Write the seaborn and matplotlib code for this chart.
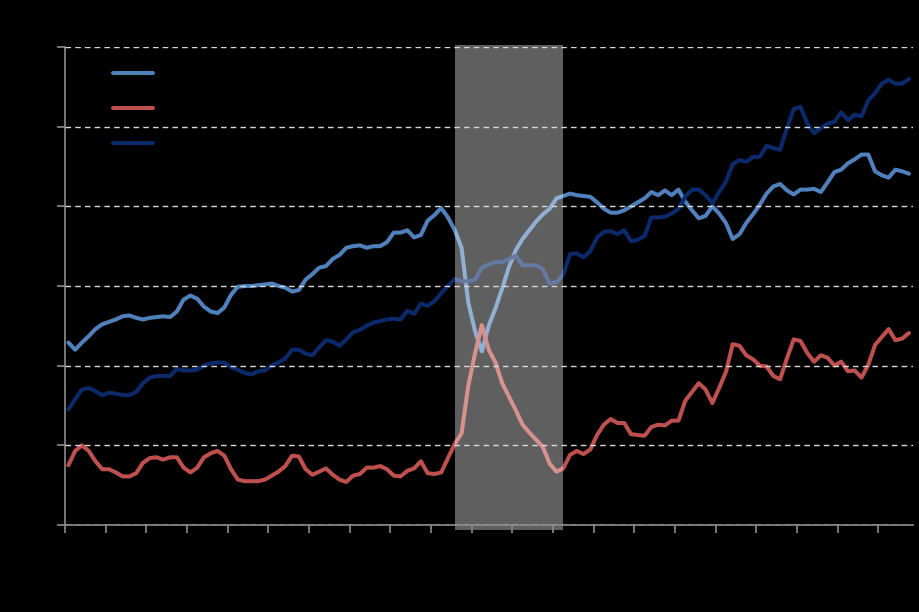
import numpy as np
import pandas as pd
import matplotlib
matplotlib.use("Agg")
import matplotlib.pyplot as plt
import seaborn as sns

light_blue = [2.29, 2.20, 2.29, 2.37, 2.46, 2.52, 2.55, 2.58, 2.62, 2.63,
              2.60, 2.58, 2.60, 2.61, 2.62, 2.61, 2.68, 2.83, 2.88, 2.84,
              2.74, 2.68, 2.66, 2.73, 2.89, 2.99, 3.00, 3.00, 3.01, 3.02,
              3.03, 3.00, 2.98, 2.93, 2.95, 3.08, 3.15, 3.23, 3.25, 3.34,
              3.39, 3.48, 3.50, 3.51, 3.48, 3.50, 3.50, 3.55, 3.67, 3.67,
              3.70, 3.61, 3.64, 3.82, 3.89, 3.98, 3.86, 3.70, 3.48, 2.79,
              2.43, 2.18, 2.50, 2.72, 2.97, 3.24, 3.45, 3.59, 3.70, 3.81,
              3.90, 3.97, 4.10, 4.13, 4.16, 4.14, 4.13, 4.12, 4.05, 3.97,
              3.92, 3.92, 3.95, 4.00, 4.05, 4.10, 4.18, 4.14, 4.20, 4.14,
              4.21, 4.06, 3.95, 3.85, 3.88, 4.00, 3.91, 3.79, 3.59, 3.65,
              3.79, 3.90, 4.02, 4.16, 4.25, 4.28, 4.20, 4.15, 4.21, 4.21,
              4.22, 4.18, 4.30, 4.43, 4.46, 4.54, 4.59, 4.65, 4.65, 4.44,
              4.39, 4.36, 4.46, 4.44, 4.41]

red = [0.75, 0.93, 1.00, 0.93, 0.80, 0.70, 0.70, 0.66, 0.61, 0.61,
       0.65, 0.78, 0.84, 0.85, 0.82, 0.85, 0.85, 0.72, 0.66, 0.72,
       0.85, 0.90, 0.93, 0.87, 0.70, 0.57, 0.55, 0.55, 0.55, 0.57,
       0.62, 0.67, 0.74, 0.87, 0.86, 0.70, 0.63, 0.67, 0.71, 0.63,
       0.57, 0.54, 0.62, 0.64, 0.72, 0.72, 0.74, 0.70, 0.62, 0.61,
       0.68, 0.71, 0.80, 0.65, 0.64, 0.66, 0.84, 1.02, 1.15, 1.75,
       2.16, 2.51, 2.20, 2.04, 1.78, 1.61, 1.44, 1.26, 1.16, 1.07,
       0.98, 0.77, 0.67, 0.71, 0.88, 0.93, 0.89, 0.95, 1.13, 1.26,
       1.33, 1.28, 1.28, 1.14, 1.13, 1.12, 1.23, 1.26, 1.25, 1.31,
       1.31, 1.56, 1.67, 1.78, 1.70, 1.53, 1.72, 1.92, 2.27, 2.25,
       2.13, 2.08, 2.00, 1.99, 1.87, 1.83, 2.09, 2.33, 2.31, 2.16,
       2.05, 2.13, 2.10, 2.00, 2.05, 1.93, 1.94, 1.85, 2.01, 2.26,
       2.36, 2.46, 2.32, 2.34, 2.41]

navy = [1.45, 1.58, 1.70, 1.72, 1.68, 1.63, 1.66, 1.65, 1.63, 1.63,
        1.67, 1.78, 1.85, 1.87, 1.87, 1.87, 1.96, 1.94, 1.94, 1.95,
        2.00, 2.03, 2.04, 2.04, 1.98, 1.95, 1.91, 1.89, 1.93, 1.94,
        2.00, 2.04, 2.09, 2.20, 2.20, 2.15, 2.13, 2.23, 2.32, 2.30,
        2.25, 2.33, 2.42, 2.45, 2.50, 2.54, 2.56, 2.58, 2.59, 2.58,
        2.69, 2.65, 2.78, 2.75, 2.81, 2.91, 3.00, 3.09, 3.06, 3.06,
        3.08, 3.23, 3.27, 3.30, 3.30, 3.34, 3.38, 3.26, 3.26, 3.26,
        3.21, 3.03, 3.05, 3.14, 3.40, 3.41, 3.36, 3.44, 3.61, 3.68,
        3.69, 3.65, 3.70, 3.56, 3.58, 3.63, 3.86, 3.86, 3.87, 3.91,
        3.97, 4.12, 4.21, 4.21, 4.14, 4.04, 4.18, 4.31, 4.53, 4.58,
        4.56, 4.62, 4.62, 4.76, 4.73, 4.71, 4.98, 5.22, 5.25, 5.04,
        4.92, 4.98, 5.04, 5.06, 5.18, 5.08, 5.15, 5.13, 5.33, 5.42,
        5.54, 5.59, 5.54, 5.54, 5.60]

series_names = ["Series A", "Series B", "Series C"]
colors = ["#4f81bd", "#c0504d", "#0a2a6c"]
shade_start, shade_end = 57.0, 73.0

period = np.arange(len(light_blue))
df = pd.concat([
    pd.DataFrame({"period": period, "value": light_blue, "series": series_names[0]}),
    pd.DataFrame({"period": period, "value": red, "series": series_names[1]}),
    pd.DataFrame({"period": period, "value": navy, "series": series_names[2]}),
])

sns.set_style("dark")
fig = plt.figure(figsize=(9.2, 6.12), dpi=100, facecolor="black")
ax = fig.add_axes([65/920, 87/612, 848/920, 478/612])
ax.set_facecolor("black")

sns.lineplot(data=df, x="period", y="value", hue="series",
             palette=dict(zip(series_names, colors)), linewidth=2.9,
             ax=ax, legend=False)

ax.axvspan(shade_start, shade_end, ymin=-0.0105, ymax=1.004,
           color="white", alpha=0.376, lw=0, zorder=2.2, clip_on=False)

ax.set_xlim(-0.5, 124.6)
ax.set_ylim(0, 6)
ax.set_xticks(np.arange(-0.5, 124, 6))
ax.set_yticks(np.arange(0, 7, 1))
ax.set_xticklabels([])
ax.set_yticklabels([])
ax.set_xlabel("")
ax.set_ylabel("")
ax.set_axisbelow(False)
ax.grid(False, axis="x")
ax.grid(True, axis="y", color="#d9d9d9", linestyle=(0, (4, 3)), linewidth=1.0)
for s in ["top", "right"]:
    ax.spines[s].set_visible(False)
for s in ["left", "bottom"]:
    ax.spines[s].set_visible(True)
    ax.spines[s].set_color("#8c8c8c")
    ax.spines[s].set_linewidth(1.2)
ax.tick_params(axis="both", which="both", colors="#8c8c8c", length=5.5,
               width=1.2, direction="out", bottom=True, left=True)

handles = [plt.Line2D([], [], color=c, lw=2.9, solid_capstyle="round") for c in colors]
leg = ax.legend(handles, ["", "", ""], loc="upper left",
                bbox_to_anchor=(0.045, 0.979), frameon=False,
                handlelength=2.9, labelspacing=1.53, fontsize=10,
                handletextpad=0.3, borderpad=0.2)

fig.savefig("out.png", dpi=100, facecolor="black")
